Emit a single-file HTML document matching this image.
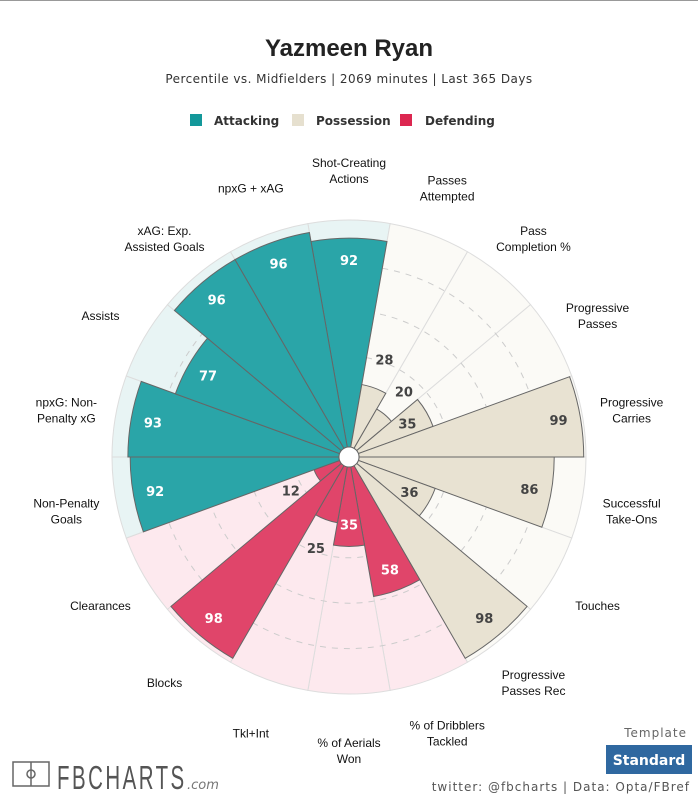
<!DOCTYPE html>
<html><head><meta charset="utf-8"><style>
html,body{margin:0;padding:0;background:#fff;}
body{width:698px;height:799px;position:relative;overflow:hidden;font-family:"Liberation Sans",sans-serif;}
</style></head><body>
<div style="position:absolute;left:0;top:0;width:698px;height:1px;background:#999"></div>
<svg id="chart" width="698" height="799" style="position:absolute;left:0;top:0">
<text x="349" y="56" text-anchor="middle" font-size="24" font-weight="bold" fill="#222" font-family="Liberation Sans, sans-serif">Yazmeen Ryan</text>
<text x="349" y="83" text-anchor="middle" font-size="12" fill="#333" letter-spacing="0.45" font-family="DejaVu Sans, sans-serif">Percentile vs. Midfielders | 2069 minutes | Last 365 Days</text>
<g font-family="DejaVu Sans, sans-serif" font-size="12" font-weight="bold" fill="#333" letter-spacing="0">
<rect x="190" y="114" width="12" height="12" fill="#13989a"/>
<text x="214" y="125">Attacking</text>
<rect x="292" y="114" width="12" height="12" fill="#e6e0cf"/>
<text x="316" y="125">Possession</text>
<rect x="400" y="114" width="12" height="12" fill="#dc2750"/>
<text x="425" y="125">Defending</text>
</g>
<g id="plot"></g>
<g>
<rect x="13" y="762" width="36" height="24" fill="none" stroke="#666" stroke-width="1.5"/>
<line x1="31" y1="762" x2="31" y2="786" stroke="#666" stroke-width="1.5"/>
<circle cx="31" cy="774" r="4" fill="none" stroke="#666" stroke-width="1.5"/>
<text x="57" y="789" font-size="33" fill="#555" letter-spacing="4" font-family="Liberation Sans, sans-serif" transform="translate(57,0) scale(0.62,1) translate(-57,0)">FBCHARTS</text>
<text x="187" y="789" font-size="13" fill="#777" font-style="italic" font-family="DejaVu Sans, sans-serif">.com</text>
</g>
<text x="687" y="737" text-anchor="end" font-size="12" fill="#666" letter-spacing="1" font-family="DejaVu Sans, sans-serif">Template</text>
<rect x="606" y="745" width="86" height="29" fill="#2f68a0"/>
<text x="649" y="765" text-anchor="middle" font-size="14" font-weight="bold" fill="#fff" font-family="DejaVu Sans, sans-serif">Standard</text>
<text x="690" y="791" text-anchor="end" font-size="12" fill="#555" letter-spacing="1" font-family="DejaVu Sans, sans-serif">twitter: @fbcharts | Data: Opta/FBref</text>
</svg>
<script>
const categories=["Shot-Creating Actions","Passes Attempted","Pass Completion %","Progressive Passes","Progressive Carries","Successful Take-Ons","Touches","Progressive Passes Rec","% of Dribblers Tackled","% of Aerials Won","Tkl+Int","Blocks","Clearances","Non-Penalty Goals","npxG: Non-Penalty xG","Assists","xAG: Exp. Assisted Goals","npxG + xAG"];
const labelLines=[["Shot-Creating","Actions"],["Passes","Attempted"],["Pass","Completion %"],["Progressive","Passes"],["Progressive","Carries"],["Successful","Take-Ons"],["Touches"],["Progressive","Passes Rec"],["% of Dribblers","Tackled"],["% of Aerials","Won"],["Tkl+Int"],["Blocks"],["Clearances"],["Non-Penalty","Goals"],["npxG: Non-","Penalty xG"],["Assists"],["xAG: Exp.","Assisted Goals"],["npxG + xAG"]];
const values=[92,28,20,35,99,86,36,98,58,35,25,98,12,92,93,77,96,96];
const groups=["att","pos","pos","pos","pos","pos","pos","pos","def","def","def","def","def","att","att","att","att","att"];
const cx=349,cy=457,r0=10,R=227;
const fill={att:"#2aa5a8",pos:"#e8e2d2",def:"#e0456a"};
const bg={att:"#e8f4f4",pos:"#fbfaf6",def:"#fde9ee"};
const NS="http://www.w3.org/2000/svg";
const plot=document.getElementById('plot');
function rad(v){return r0+v/100*R;}
function pt(r,a){const t=a*Math.PI/180;return [cx+r*Math.cos(t),cy-r*Math.sin(t)];}
function sector(r1,r2,a1,a2){const p1=pt(r2,a2),p2=pt(r2,a1),p3=pt(r1,a1),p4=pt(r1,a2);
return `M${p1[0]},${p1[1]} A${r2},${r2} 0 0 1 ${p2[0]},${p2[1]} L${p3[0]},${p3[1]} A${r1},${r1} 0 0 0 ${p4[0]},${p4[1]} Z`;}
function mk(tag,attrs){const e=document.createElementNS(NS,tag);for(const k in attrs)e.setAttribute(k,attrs[k]);return e;}
const n=categories.length,step=360/n;
categories.forEach((c,i)=>{
  const a2=100-i*step,a1=a2-step,g=groups[i];
  const b=mk('path',{d:sector(r0,rad(100),a1,a2),fill:bg[g],stroke:'#ddd','stroke-width':1});
  
  
  plot.appendChild(b);
});
[20,40,60,80].forEach(v=>{
  const c=mk('circle',{cx:cx,cy:cy,r:rad(v),fill:'none',stroke:'#ccc','stroke-dasharray':'6,6','stroke-width':1});
  
  
  plot.appendChild(c);
});
categories.forEach((c,i)=>{
  const a2=100-i*step,a1=a2-step,g=groups[i],v=values[i];
  const p=mk('path',{d:sector(r0,rad(v),a1,a2),fill:fill[g],stroke:'#666','stroke-width':1});
  
  
  plot.appendChild(p);
});
categories.forEach((c,i)=>{
  const am=100-i*step-step/2,g=groups[i],v=values[i];
  const outside=v<30;
  const lr=outside?rad(v)+30:rad(v)-22;
  const q=pt(lr,am);
  const t=mk('text',{x:q[0],y:q[1]+5,'text-anchor':'middle','font-size':13,'font-weight':'bold','font-family':'DejaVu Sans, sans-serif',fill:(!outside&&g!=='pos')?'#fff':'#444'});
  t.textContent=v;
  
  
  plot.appendChild(t);
  const lp=pt(287,am),lines=labelLines[i];
  const sn=Math.sin(am*Math.PI/180);
  const yOff=4-3*sn;
  const tl=mk('text',{x:lp[0],y:lp[1]-(lines.length-1)*8+4+yOff,'text-anchor':'middle','font-size':12,fill:'#111','font-family':'Liberation Sans, sans-serif'});
  lines.forEach((s,k)=>{const ts=mk('tspan',{x:lp[0],dy:k?16:0});ts.textContent=s;tl.appendChild(ts);});
  
  
  plot.appendChild(tl);
});
const hub=mk('circle',{cx:cx,cy:cy,r:r0,fill:'#fff',stroke:'#666','stroke-width':1});


plot.appendChild(hub);
</script>
</body></html>
